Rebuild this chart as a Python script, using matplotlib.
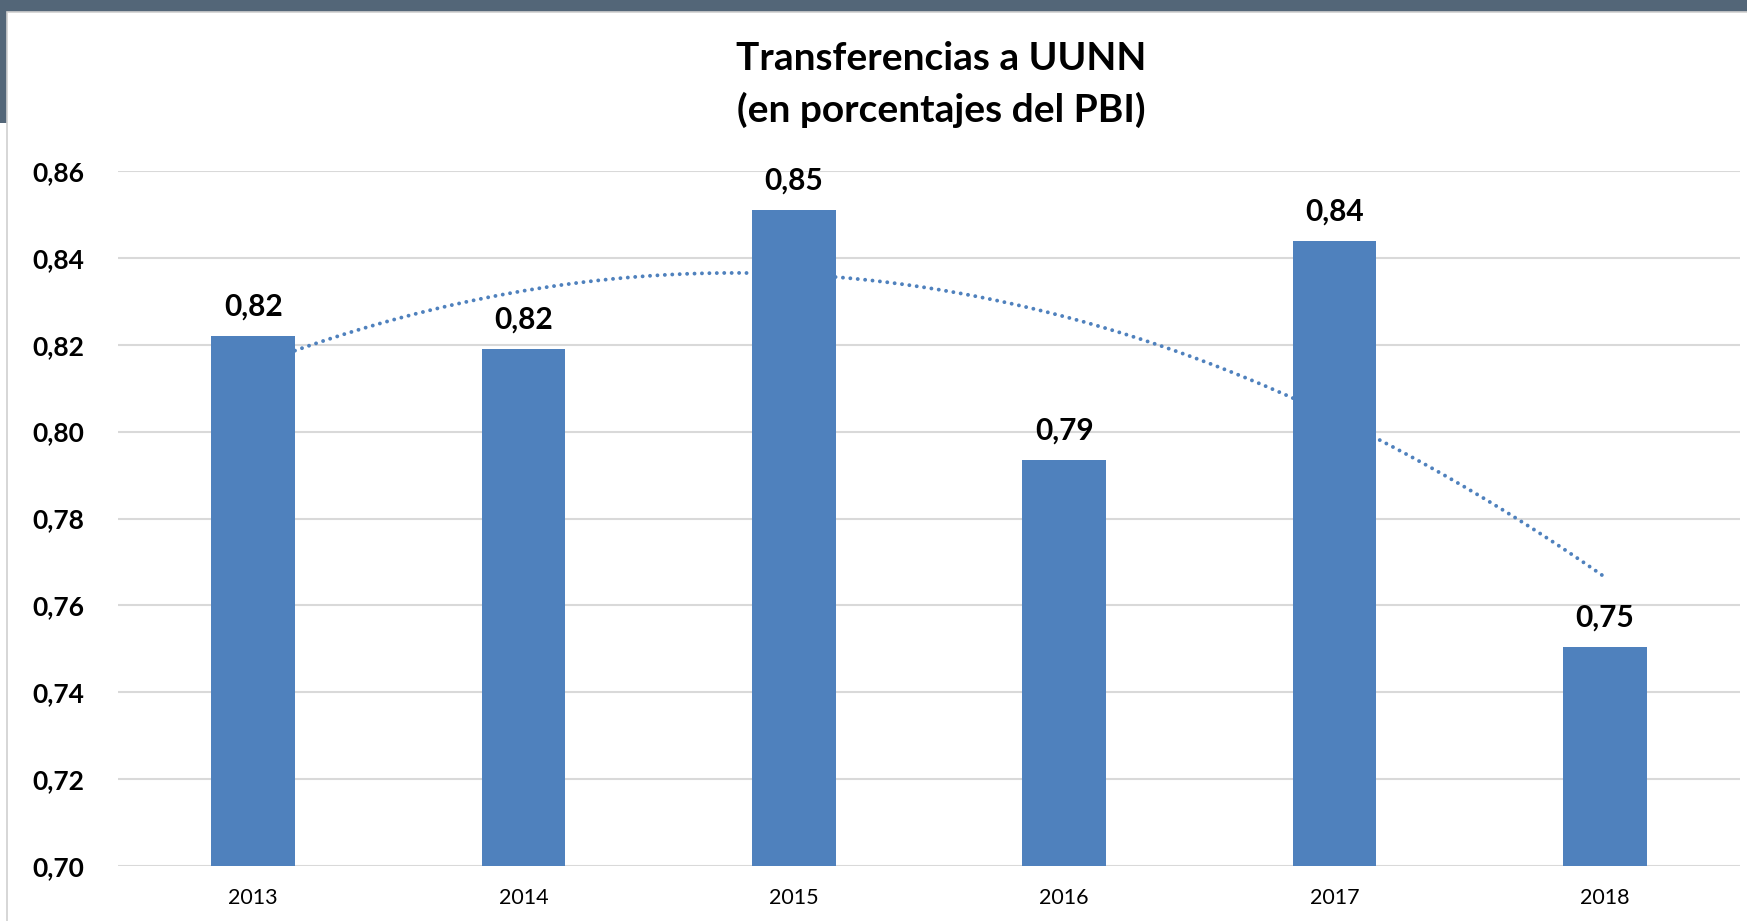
import matplotlib.pyplot as plt
import numpy as np
from matplotlib.patches import Rectangle

# Data
years = ["2013", "2014", "2015", "2016", "2017", "2018"]
values = [0.822, 0.819, 0.851, 0.7935, 0.844, 0.7505]
y_ticks = [0.70, 0.72, 0.74, 0.76, 0.78, 0.80, 0.82, 0.84, 0.86]

plt.rcParams["font.family"] = ["Lato", "DejaVu Sans"]

bar_color = "#4f81bd"
grid_color = "#d9d9d9"

fig = plt.figure(figsize=(17.47, 9.21), dpi=100)
fig.patch.set_facecolor("white")

# slide background strips (top band and left edge), kept behind the axes
fig.patches.append(Rectangle((0, 1 - 12 / 921), 1, 12 / 921, transform=fig.transFigure,
                             facecolor="#536678", edgecolor="none", zorder=-3))
fig.patches.append(Rectangle((0, 1 - 123 / 921), 7 / 1747, 123 / 921, transform=fig.transFigure,
                             facecolor="#536678", edgecolor="none", zorder=-3))
fig.patches.append(Rectangle((7 / 1747, -0.01), 1.0, 1 - 12 / 921 + 0.01, transform=fig.transFigure,
                             facecolor="white", edgecolor="#d0d0d0", linewidth=1.2, zorder=-2))

ax = fig.add_axes([118 / 1747, 55 / 921, 1622 / 1747, 695 / 921])
ax.set_facecolor("none")

x = np.arange(len(years))
ax.bar(x, values, width=0.31, color=bar_color, zorder=3)

# polynomial (order 2) trendline, drawn behind the bars
coef = np.polyfit(x, values, 2)
xt = np.linspace(0, len(years) - 1, 300)
ax.plot(xt, np.polyval(coef, xt), color=bar_color, linewidth=2.8,
        linestyle=(0, (0.01, 1.9)), dash_capstyle="round", zorder=2)

# value labels
for xi, v in zip(x, values):
    ax.annotate(f"{v:.2f}".replace(".", ","), (xi, v), xytext=(0, 21),
                textcoords="offset points", ha="center", va="center",
                fontsize=21.5, fontweight="bold", color="black", zorder=4)

ax.set_xlim(-0.5, 5.5)
ax.set_ylim(0.70, 0.86)
ax.set_yticks(y_ticks)
ax.set_yticklabels([f"{t:.2f}".replace(".", ",") for t in y_ticks],
                   fontsize=19, fontweight="bold")
ax.set_xticks(x)
ax.set_xticklabels(years, fontsize=15.5)
ax.tick_params(axis="both", length=0)
ax.tick_params(axis="y", pad=24)
ax.tick_params(axis="x", pad=16)

ax.grid(axis="y", color=grid_color, linewidth=1.5, zorder=0)
ax.set_axisbelow(True)
for s in ax.spines.values():
    s.set_visible(False)

fig.text(941 / 1747, 1 - 58 / 921, "Transferencias a UUNN", ha="center", va="center",
         fontsize=28, fontweight="bold")
fig.text(941 / 1747, 1 - 110 / 921, "(en porcentajes del PBI)", ha="center", va="center",
         fontsize=28, fontweight="bold")

plt.savefig("out.png", dpi=100)
plt.close()
